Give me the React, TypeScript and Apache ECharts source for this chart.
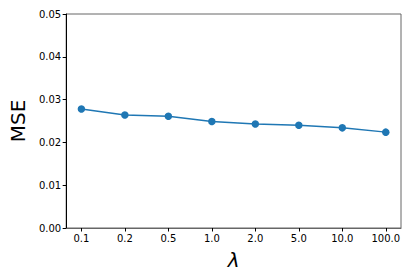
import React, { useEffect, useRef } from "react";
import * as echarts from "echarts";

const categories = ["0.1", "0.2", "0.5", "1.0", "2.0", "5.0", "10.0", "100.0"];
const mseValues = [0.0278, 0.0264, 0.0261, 0.0249, 0.0243, 0.024, 0.0234, 0.0224];
const yTicks = [0, 0.01, 0.02, 0.03, 0.04, 0.05];

export default function App() {
  const ref = useRef<HTMLDivElement>(null);
  useEffect(() => {
    if (!ref.current) return;
    const chart = echarts.init(ref.current, null, { renderer: "svg" });
    const idx = categories.map((_, i) => i);
    chart.setOption({
      animation: false,
      backgroundColor: "#fff",
      grid: {
        left: 60,
        top: 14,
        right: 14,
        bottom: 49,
        show: true,
        borderColor: "#666",
        borderWidth: 1,
      },
      xAxis: {
        type: "value",
        min: -0.35,
        max: 7.35,
        name: "λ",
        nameLocation: "middle",
        nameGap: 22,
        nameTextStyle: { fontSize: 20, fontStyle: "italic", fontFamily: "DejaVu Sans", color: "#000" },
        axisLine: { show: true, onZero: false, lineStyle: { color: "#666", width: 1 } },
        axisTick: { show: true, customValues: idx, length: 3.5, lineStyle: { color: "#000" } },
        axisLabel: {
          customValues: idx,
          formatter: (v: number) => categories[Math.round(v)] ?? "",
          fontSize: 10,
          fontFamily: "DejaVu Sans",
          color: "#000",
          margin: 5,
        },
        splitLine: { show: false },
      },
      yAxis: {
        type: "value",
        min: yTicks[0],
        max: yTicks[yTicks.length - 1],
        interval: 0.01,
        name: "MSE",
        nameLocation: "middle",
        nameGap: 38,
        nameTextStyle: { fontSize: 20, fontFamily: "DejaVu Sans", color: "#000" },
        axisLine: { show: true, onZero: false, lineStyle: { color: "#000", width: 1 } },
        axisTick: { show: true, length: 3.5, lineStyle: { color: "#000" } },
        axisLabel: {
          formatter: (v: number) => v.toFixed(2),
          fontSize: 10,
          fontFamily: "DejaVu Sans",
          color: "#000",
          margin: 5,
        },
        splitLine: { show: false },
      },
      series: [
        {
          type: "line",
          data: mseValues.map((v, i) => [i, v]),
          symbol: "circle",
          symbolSize: 7.5,
          lineStyle: { color: "#1f77b4", width: 1.5 },
          itemStyle: { color: "#1f77b4" },
        },
      ],
    });
    return () => chart.dispose();
  }, []);
  return (
    <div
      ref={ref}
      style={{ position: "fixed", left: 0, top: 0, width: 415, height: 277 }}
    />
  );
}
